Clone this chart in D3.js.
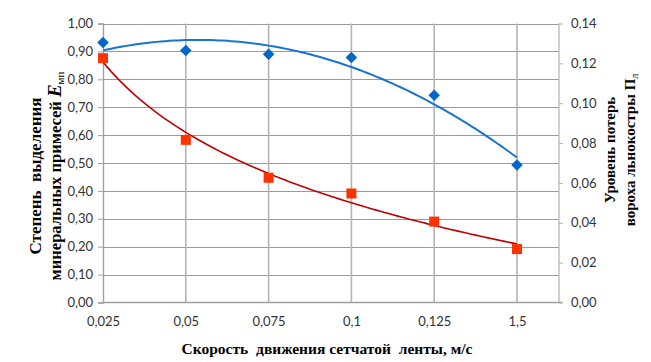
<!DOCTYPE html>
<html><head><meta charset="utf-8">
<script src="https://cdn.jsdelivr.net/npm/d3@7"></script>
<style>
html,body{margin:0;padding:0;background:#fff;}
svg{display:block;}
.tick text{font-family:"Lato","Open Sans",sans-serif;}
</style></head>
<body><svg id="c" width="651" height="362"></svg>
<script>
const categories = ["0,025","0,05","0,075","0,1","0,125","1,5"];
const separation = [0.932,0.903,0.890,0.878,0.743,0.493];   // left axis, E_мп
const losses = [0.1226,0.0816,0.0626,0.0547,0.0406,0.0268];  // right axis, П_л
const leftTicks = [0,0.1,0.2,0.3,0.4,0.5,0.6,0.7,0.8,0.9,1.0];
const rightTicks = [0,0.02,0.04,0.06,0.08,0.10,0.12,0.14];

const svg = d3.select("#c");
const L=103, R=559, T=23.5, B=302.5;
const step = 82.8;
const x = d3.scalePoint().domain(categories).range([L, L+step*(categories.length-1)]);
const yL = d3.scaleLinear().domain([0,1]).range([B,T]);
const yR = d3.scaleLinear().domain([0,0.14]).range([B,T]);
const xi = d3.scaleLinear().domain([1,categories.length]).range([x(categories[0]), x(categories[categories.length-1])]);
const fmt2 = v => d3.format(".2f")(v).replace(".",",");

// grid horizontal
svg.append("g").selectAll("line").data(leftTicks.slice(1)).join("line")
  .attr("x1",L).attr("x2",R).attr("y1",d=>Math.round(yL(d))+0.5).attr("y2",d=>Math.round(yL(d))+0.5)
  .attr("stroke","#9a9a9a").attr("stroke-width",1);
// grid vertical
svg.append("g").selectAll("line").data(categories.slice(1)).join("line")
  .attr("x1",d=>x(d)).attr("x2",d=>x(d)).attr("y1",T).attr("y2",B)
  .attr("stroke","#b4b4b4").attr("stroke-width",1.6);
// right border/axis line
svg.append("line").attr("x1",R).attr("x2",R).attr("y1",T).attr("y2",B).attr("stroke","#c4c4c4").attr("stroke-width",1.6);

// left axis
const gL = svg.append("g").attr("transform",`translate(${L},0)`)
  .call(d3.axisLeft(yL).tickValues(leftTicks).tickFormat(fmt2).tickSize(5).tickPadding(5));
gL.select(".domain").attr("stroke","#a0a0a0").attr("stroke-width",1.4);
gL.selectAll(".tick line").attr("stroke","#a0a0a0");
gL.selectAll(".tick text").attr("font-size",13).attr("fill","#333");

// right axis
const gR = svg.append("g").attr("transform",`translate(${R},0)`)
  .call(d3.axisRight(yR).tickValues(rightTicks).tickFormat(fmt2).tickSize(4).tickPadding(8));
gR.select(".domain").remove();
gR.selectAll(".tick line").attr("stroke","#b0b0b0");
gR.selectAll(".tick text").attr("font-size",13).attr("fill","#333");

// bottom axis
const gB = svg.append("g").attr("transform",`translate(0,${B})`)
  .call(d3.axisBottom(x).tickSize(0).tickPadding(14));
gB.select(".domain").remove();
svg.append("line").attr("x1",L).attr("x2",R+3).attr("y1",B).attr("y2",B).attr("stroke","#a0a0a0").attr("stroke-width",1.4);
gB.selectAll(".tick text").attr("font-size",13).attr("fill","#333");

// trendlines: polynomial (2nd order) for separation, logarithmic for losses
const n = categories.length, idx = d3.range(1,n+1);
function polyFit2(xs, ys){
  let s=[0,0,0,0,0], t=[0,0,0];
  xs.forEach((xv,i)=>{ for(let k=0;k<5;k++) s[k]+=Math.pow(xv,k); for(let k=0;k<3;k++) t[k]+=ys[i]*Math.pow(xv,k); });
  const A=[[s[0],s[1],s[2],t[0]],[s[1],s[2],s[3],t[1]],[s[2],s[3],s[4],t[2]]];
  for(let i=0;i<3;i++){ for(let j=i+1;j<3;j++){ const f=A[j][i]/A[i][i]; for(let k=i;k<4;k++) A[j][k]-=f*A[i][k]; } }
  const c=[0,0,0];
  for(let i=2;i>=0;i--){ let v=A[i][3]; for(let k=i+1;k<3;k++) v-=A[i][k]*c[k]; c[i]=v/A[i][i]; }
  return xv=>c[0]+c[1]*xv+c[2]*xv*xv;
}
function logFit(xs, ys){
  const lx=xs.map(Math.log), mx=d3.mean(lx), my=d3.mean(ys);
  const b=d3.sum(lx.map((v,i)=>(v-mx)*(ys[i]-my)))/d3.sum(lx.map(v=>(v-mx)*(v-mx)));
  const a=my-b*mx;
  return xv=>a+b*Math.log(xv);
}
const fB = polyFit2(idx, separation), fR = logFit(idx, losses);
const ts = d3.range(1, n+0.0001, 0.05);
const line = d3.line().curve(d3.curveLinear);
svg.append("path").attr("d", line(ts.map(t=>[xi(t), yL(fB(t))])))
  .attr("fill","none").attr("stroke","#1874d2").attr("stroke-width",2);
svg.append("path").attr("d", line(ts.map(t=>[xi(t), yR(fR(t))])))
  .attr("fill","none").attr("stroke","#c00000").attr("stroke-width",1.6);

// markers
svg.append("g").selectAll("path").data(separation).join("path")
  .attr("d", d3.symbol().type(d3.symbolDiamond2).size(85))
  .attr("transform",(d,i)=>`translate(${x(categories[i])},${yL(d)})`)
  .attr("fill","#0066cc");
svg.append("g").selectAll("rect").data(losses).join("rect")
  .attr("x",(d,i)=>x(categories[i])-5).attr("y",d=>yR(d)-5).attr("width",10).attr("height",10)
  .attr("fill","#ff3300");

// axis titles
const serif = '"Liberation Serif","Times New Roman",serif';
svg.append("text").attr("x",327).attr("y",354).attr("text-anchor","middle")
  .attr("font-family",serif).attr("font-weight","bold").attr("font-size",15.5).attr("fill","#000")
  .style("white-space","pre").text("Скорость  движения сетчатой  ленты, м/с");

const lt = svg.append("g").attr("transform","translate(0,176) rotate(-90)");
lt.append("text").attr("x",0).attr("y",41).attr("text-anchor","middle")
  .attr("font-family",serif).attr("font-weight","bold").attr("font-size",17).style("white-space","pre")
  .text("Степень  выделения");
const l2 = lt.append("text").attr("x",0).attr("y",61).attr("text-anchor","middle")
  .attr("font-family",serif).attr("font-weight","bold").attr("font-size",16.5);
l2.append("tspan").text("минеральных примесей ");
l2.append("tspan").attr("font-style","italic").attr("font-size",19).text("E");
l2.append("tspan").attr("font-size",11).attr("font-weight","normal").attr("dy",3).text("мп");

const rt = svg.append("g").attr("transform","translate(0,150) rotate(-90)");
rt.append("text").attr("x",0).attr("y",615).attr("text-anchor","middle")
  .attr("font-family",serif).attr("font-weight","bold").attr("font-size",15)
  .text("Уровень потерь");
const r2 = rt.append("text").attr("x",0).attr("y",635).attr("text-anchor","middle")
  .attr("font-family",serif).attr("font-weight","bold").attr("font-size",15);
r2.append("tspan").text("вороха льнокостры П");
r2.append("tspan").attr("font-size",10).attr("font-weight","normal").attr("dy",3).text("л");
</script></body></html>
